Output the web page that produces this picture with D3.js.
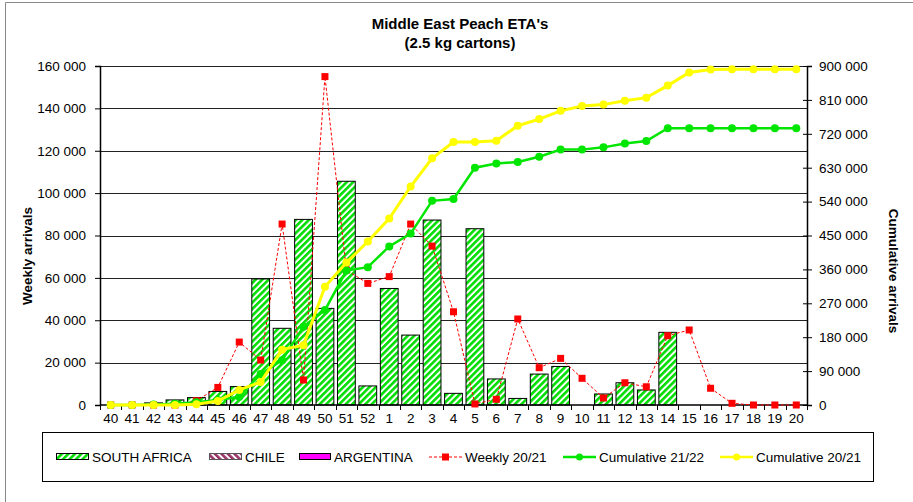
<!DOCTYPE html>
<html>
<head>
<meta charset="utf-8">
<script src="https://cdn.jsdelivr.net/npm/d3@7"></script>
<style>
  body { margin: 0; background: #fff; }
  svg { font-family: "Liberation Sans", Arial, sans-serif; }
</style>
</head>
<body>
<div id="chart"></div>
<script>
const weeks = ["40","41","42","43","44","45","46","47","48","49","50","51","52",
  "1","2","3","4","5","6","7","8","9","10","11","12","13","14","15","16","17","18","19","20"];

const southAfrica = [0, 0, 1000, 2400, 3500, 6400, 8700, 59500, 36200, 87600, 45600, 105600, 9000,
  55000, 33000, 87300, 5500, 83200, 12300, 3100, 14600, 18200, 0, 5200, 10500, 7100, 34300, 0, 0, 0, 0, 0, 0];

const weekly2021 = [0, 0, 0, 0, 2000, 8300, 29700, 21200, 85400, 11800, 155000, 63700, 57400,
  60600, 85400, 75000, 44000, 500, 2700, 40600, 17600, 22000, 12600, 3300, 10500, 8600, 32700, 35400, 7900, 800, 0, 0, 0];

const cumulative2122 = [0, 0, 1000, 3000, 7000, 13000, 22000, 82000, 119000, 208000, 252000, 357000, 366000,
  421000, 455000, 542000, 547000, 630000, 641000, 645000, 659000, 678000, 678000, 684000, 694000, 701000, 735000, 735000, 735000, 735000, 735000, 735000, 735000];

const cumulative2021 = [0, 0, 0, 0, 2000, 10500, 40000, 61000, 147000, 158500, 314000, 378000, 434000,
  495000, 580000, 655000, 698000, 698500, 701500, 741500, 759000, 781000, 794000, 797500, 808000, 816000, 848000, 883000, 890500, 891500, 891500, 891500, 891500];

const leftTicks = [0, 20000, 40000, 60000, 80000, 100000, 120000, 140000, 160000];
const rightTicks = [0, 90000, 180000, 270000, 360000, 450000, 540000, 630000, 720000, 810000, 900000];

const W = 913, H = 502;
const margin = { left: 100, right: 106, top: 66, bottom: 97 };
const plotRight = W - margin.right;
const plotBottom = H - margin.bottom;

const fmt = (v) => d3.format(",")(v).replace(/,/g, " ");

var svg = d3.select("#chart").append("svg").attr("width", W).attr("height", H);

// stripes
const defs = svg.append("defs");
defs.append("pattern")
  .attr("id", "saStripe")
  .attr("patternUnits", "userSpaceOnUse")
  .attr("width", 4.6).attr("height", 4.6)
  .attr("patternTransform", "rotate(45)")
  .call((p) => {
    p.append("rect").attr("width", 4.6).attr("height", 4.6).attr("fill", "#fff");
    p.append("rect").attr("width", 2.6).attr("height", 4.6).attr("fill", "#00dd00");
  });
defs.append("pattern")
  .attr("id", "chStripe")
  .attr("patternUnits", "userSpaceOnUse")
  .attr("width", 4.6).attr("height", 4.6)
  .attr("patternTransform", "rotate(-45)")
  .call((p) => {
    p.append("rect").attr("width", 4.6).attr("height", 4.6).attr("fill", "#fff");
    p.append("rect").attr("width", 2.6).attr("height", 4.6).attr("fill", "#993366");
  });

// outer frame (only left and top visible)
svg.append("line").attr("x1", 5.5).attr("x2", 5.5).attr("y1", 2.5).attr("y2", H).attr("stroke", "#888");
svg.append("line").attr("x1", 5.5).attr("x2", W).attr("y1", 2.5).attr("y2", 2.5).attr("stroke", "#888");

var x = d3.scaleBand().domain(weeks).range([margin.left, plotRight]).paddingInner(0.17).paddingOuter(0.085);
var yL = d3.scaleLinear().domain([0, 160000]).range([plotBottom, margin.top]);
var yR = d3.scaleLinear().domain([0, 900000]).range([plotBottom, margin.top]);

// gridlines
svg.append("g").selectAll("line").data(leftTicks.slice(1)).enter().append("line")
  .attr("x1", margin.left).attr("x2", plotRight)
  .attr("y1", (d) => Math.round(yL(d)) + 0.5).attr("y2", (d) => Math.round(yL(d)) + 0.5)
  .attr("stroke", "#222").attr("stroke-width", 1);

// bars
svg.append("g").selectAll("rect").data(southAfrica).enter().append("rect")
  .attr("x", (_, i) => x(weeks[i]))
  .attr("y", (d) => yL(d))
  .attr("width", x.bandwidth())
  .attr("height", (d) => plotBottom - yL(d))
  .attr("fill", "url(#saStripe)")
  .attr("stroke", (d) => d > 0 ? "#000" : "none")
  .attr("stroke-width", 1);

// axes
const left = svg.append("g").attr("transform", `translate(${margin.left},0)`)
  .call(d3.axisLeft(yL).tickValues(leftTicks).tickFormat(fmt).tickSize(5).tickPadding(9));
const right = svg.append("g").attr("transform", `translate(${plotRight},0)`)
  .call(d3.axisRight(yR).tickValues(rightTicks).tickFormat(fmt).tickSize(5).tickPadding(7));
right.selectAll(".tick line").attr("x1", -4);
[left, right].forEach((g) => {
  g.select(".domain").attr("stroke", "#000").attr("stroke-width", 1.5);
  g.selectAll(".tick line").attr("stroke", "#000");
  g.selectAll("text").attr("font-size", 13.5).attr("fill", "#000").attr("font-family", "Liberation Sans, Arial, sans-serif");
});

// x axis
svg.append("line").attr("x1", margin.left).attr("x2", plotRight)
  .attr("y1", plotBottom).attr("y2", plotBottom).attr("stroke", "#000").attr("stroke-width", 1.5);
svg.append("g").selectAll("line").data(d3.range(weeks.length + 1)).enter().append("line")
  .attr("x1", (i) => Math.round(margin.left + i * (plotRight - margin.left) / weeks.length) + 0.5)
  .attr("x2", (i) => Math.round(margin.left + i * (plotRight - margin.left) / weeks.length) + 0.5)
  .attr("y1", plotBottom).attr("y2", plotBottom + 5).attr("stroke", "#000");
svg.append("g").selectAll("text").data(weeks).enter().append("text")
  .attr("x", (d) => x(d) + x.bandwidth() / 2)
  .attr("y", plotBottom + 18)
  .attr("text-anchor", "middle").attr("font-size", 13.5)
  .text((d) => d);

const cx = (i) => x(weeks[i]) + x.bandwidth() / 2;

// weekly 20/21
svg.append("path").datum(weekly2021)
  .attr("fill", "none").attr("stroke", "#ff0000").attr("stroke-width", 1).attr("stroke-dasharray", "3,2")
  .attr("d", d3.line().x((_, i) => cx(i)).y((d) => yL(d)));
svg.append("g").selectAll("rect").data(weekly2021).enter().append("rect")
  .attr("x", (_, i) => cx(i) - 3.5).attr("y", (d) => yL(d) - 3.5)
  .attr("width", 7).attr("height", 7).attr("fill", "#ff0000");

// cumulative 21/22
svg.append("path").datum(cumulative2122)
  .attr("fill", "none").attr("stroke", "#00e600").attr("stroke-width", 2.5)
  .attr("d", d3.line().x((_, i) => cx(i)).y((d) => yR(d)));
svg.append("g").selectAll("circle").data(cumulative2122).enter().append("circle")
  .attr("cx", (_, i) => cx(i)).attr("cy", (d) => yR(d)).attr("r", 4).attr("fill", "#00e600");

// cumulative 20/21
svg.append("path").datum(cumulative2021)
  .attr("fill", "none").attr("stroke", "#ffff00").attr("stroke-width", 3)
  .attr("d", d3.line().x((_, i) => cx(i)).y((d) => yR(d)));
svg.append("g").selectAll("circle").data(cumulative2021).enter().append("circle")
  .attr("cx", (_, i) => cx(i)).attr("cy", (d) => yR(d)).attr("r", 4).attr("fill", "#ffff00");

// titles
svg.append("text").attr("x", 460).attr("y", 29).attr("text-anchor", "middle")
  .attr("font-size", 15).attr("font-weight", "bold").text("Middle East Peach ETA's");
svg.append("text").attr("x", 460).attr("y", 48).attr("text-anchor", "middle")
  .attr("font-size", 15).attr("font-weight", "bold").text("(2.5 kg cartons)");
svg.append("text").attr("transform", "translate(32,256) rotate(-90)").attr("text-anchor", "middle")
  .attr("font-size", 13.5).attr("font-weight", "bold").text("Weekly arrivals");
svg.append("text").attr("transform", "translate(889,271) rotate(90)").attr("text-anchor", "middle")
  .attr("font-size", 13.5).attr("font-weight", "bold").text("Cumulative arrivals");

// legend
const lg = svg.append("g");
lg.append("rect").attr("x", 42.5).attr("y", 432.5).attr("width", 831).attr("height", 49)
  .attr("fill", "#fff").attr("stroke", "#000");
const ly = 457;
lg.append("rect").attr("x", 56.5).attr("y", ly - 3.5).attr("width", 32).attr("height", 6)
  .attr("fill", "url(#saStripe)").attr("stroke", "#000");
lg.append("rect").attr("x", 209.5).attr("y", ly - 3.5).attr("width", 32).attr("height", 6)
  .attr("fill", "url(#chStripe)").attr("stroke", "#555");
lg.append("rect").attr("x", 299.5).attr("y", ly - 3.5).attr("width", 31).attr("height", 6)
  .attr("fill", "#ff00ff").attr("stroke", "#000");
lg.append("line").attr("x1", 429).attr("x2", 462).attr("y1", ly).attr("y2", ly)
  .attr("stroke", "#ff0000").attr("stroke-dasharray", "3,2");
lg.append("rect").attr("x", 442).attr("y", ly - 3.5).attr("width", 7).attr("height", 7).attr("fill", "#ff0000");
lg.append("line").attr("x1", 563).attr("x2", 596).attr("y1", ly).attr("y2", ly)
  .attr("stroke", "#00e600").attr("stroke-width", 2.5);
lg.append("circle").attr("cx", 579.5).attr("cy", ly).attr("r", 3.5).attr("fill", "#00e600");
lg.append("line").attr("x1", 720).attr("x2", 753).attr("y1", ly).attr("y2", ly)
  .attr("stroke", "#ffff00").attr("stroke-width", 2.5);
lg.append("circle").attr("cx", 736.5).attr("cy", ly).attr("r", 3.5).attr("fill", "#ffff00");
const legendText = [["SOUTH AFRICA", 92], ["CHILE", 245], ["ARGENTINA", 334],
  ["Weekly 20/21", 465], ["Cumulative 21/22", 599], ["Cumulative 20/21", 756]];
lg.selectAll("text.lt").data(legendText).enter().append("text")
  .attr("x", (d) => d[1]).attr("y", ly + 5).attr("font-size", 13.5).text((d) => d[0]);
</script>
</body>
</html>
